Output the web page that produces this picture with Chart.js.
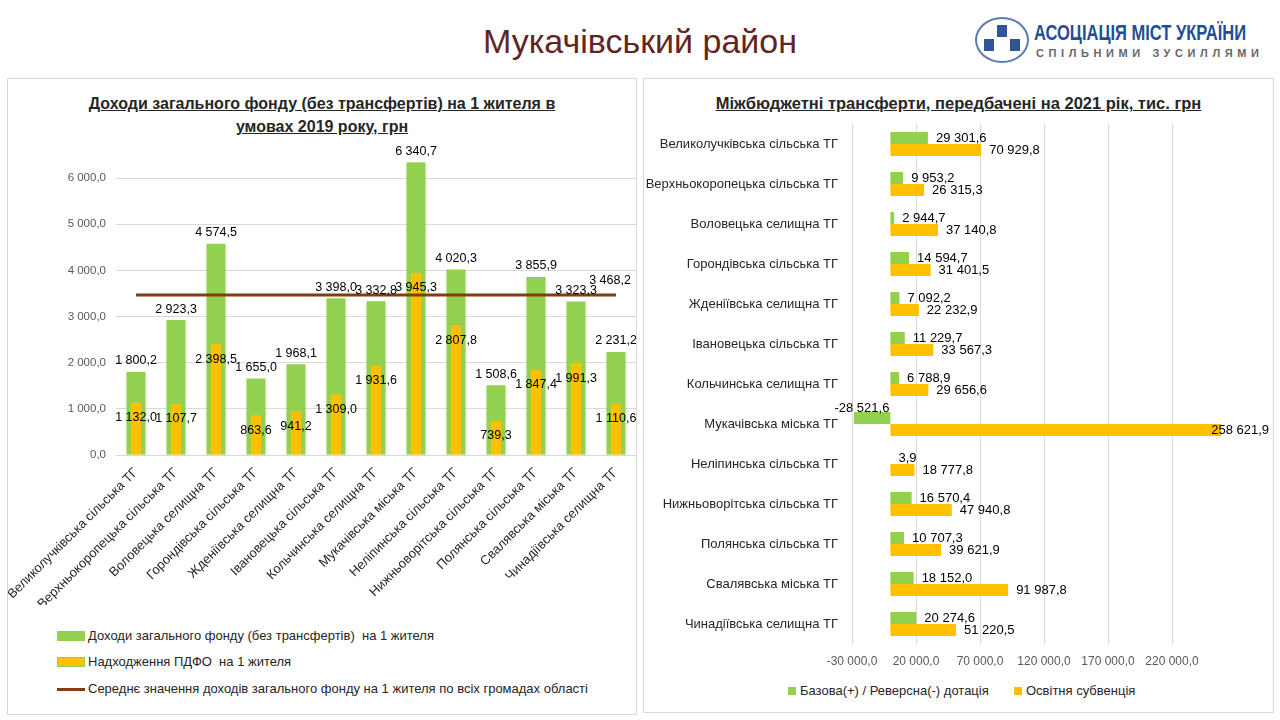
<!DOCTYPE html>
<html lang="uk">
<head>
<meta charset="utf-8">
<title>Мукачівський район</title>
<script src="https://cdn.jsdelivr.net/npm/chart.js@4.4.1/dist/chart.umd.min.js"></script>
<style>
  body {
    margin: 0; width: 1280px; height: 720px; position: relative; overflow: hidden;
    background: #fff; color: #262626;
    font-family: "Liberation Sans", Arial, sans-serif;
  }
  .page-title { position: absolute; left: 0; top: 22px; width: 1280px; text-align: center; font-size: 34px; color: #632523; }
  .panel { position: absolute; border: 1px solid #d9d9d9; box-sizing: border-box; }
  #leftPanel { left: 7px; top: 78px; width: 630px; height: 637px; }
  #rightPanel { left: 643px; top: 78px; width: 631px; height: 635px; }
  .chart-title { position: absolute; left: 0; width: 100%; text-align: center; font-weight: bold; line-height: 23px; text-decoration: underline; }
  canvas { position: absolute; }
  .legend-row { position: absolute; height: 18px; line-height: 18px; font-size: 13px; white-space: nowrap; display: flex; align-items: center; }
  .swatch { display: inline-block; width: 28px; height: 10px; margin-right: 3px; box-sizing: border-box; }
  .sq { display: inline-block; width: 8px; height: 8px; margin-right: 4px; }

  /* logo */
  .logo-ring { position: absolute; left: 975px; top: 17px; width: 54px; height: 46px; border: 2px solid #5b7bb0; border-radius: 50%; box-sizing: border-box; }
  .logo-tower { position: absolute; width: 10px; height: 12px; background: #2f5597; }
  .logo-main { position: absolute; left: 1034px; top: 20px; font-size: 16.5px; font-weight: bold; color: #1f4e9a; white-space: nowrap; transform: scale(1, 1.3); transform-origin: left top; }
  .logo-sub { position: absolute; left: 1036px; top: 47px; font-size: 11px; font-weight: bold; color: #666; letter-spacing: 4.6px; white-space: nowrap; }
</style>
</head>
<body>

<div class="page-title">Мукачівський район</div>

<div class="logo-ring">
  <div class="logo-tower" style="left:20px; top:6px"></div>
  <div class="logo-tower" style="left:7px; top:20px"></div>
  <div class="logo-tower" style="left:33px; top:20px"></div>
</div>
<div class="logo-main">АСОЦІАЦІЯ МІСТ УКРАЇНИ</div>
<div class="logo-sub">СПІЛЬНИМИ ЗУСИЛЛЯМИ</div>

<div class="panel" id="leftPanel">
  <div class="chart-title" style="top:13px; font-size:16px">Доходи загального фонду (без трансфертів) на 1 жителя в<br>умовах 2019 року, грн</div>
  <canvas id="chart-income" width="628" height="480" style="left:0; top:61px; width:628px; height:480px"></canvas>
  <div class="legend-row" style="left:49px; top:548px"><span class="swatch" style="background:#92D050"></span>Доходи загального фонду (без трансфертів)&nbsp; на 1 жителя</div>
  <div class="legend-row" style="left:49px; top:574px"><span class="swatch" style="background:#FFC000; border:1px solid #92D050"></span>Надходження ПДФО&nbsp; на 1 жителя</div>
  <div class="legend-row" style="left:49px; top:601px"><span class="swatch" style="height:3px; background:#843C0C"></span>Середнє значення доходів загального фонду на 1 жителя по всіх громадах області</div>
</div>

<div class="panel" id="rightPanel">
  <div class="chart-title" style="top:13px; font-size:16.5px">Міжбюджетні трансферти, передбачені на 2021 рік, тис. грн</div>
  <canvas id="chart-transfers" width="629" height="565" style="left:0; top:36px; width:629px; height:565px"></canvas>
  <div class="legend-row" style="left:144px; top:603px"><span class="sq" style="background:#92D050"></span>Базова(+) / Реверсна(-) дотація</div>
  <div class="legend-row" style="left:370px; top:603px"><span class="sq" style="background:#FFC000"></span>Освітня субвенція</div>
</div>

<script>
// --- data ---
const communities = [
  'Великолучківська сільська ТГ', 'Верхньокоропецька сільська ТГ', 'Воловецька селищна ТГ',
  'Горондівська сільська ТГ', 'Жденіївська селищна ТГ', 'Івановецька сільська ТГ',
  'Кольчинська селищна ТГ', 'Мукачівська міська ТГ', 'Неліпинська сільська ТГ',
  'Нижньоворітська сільська ТГ', 'Полянська сільська ТГ', 'Свалявська міська ТГ',
  'Чинадіївська селищна ТГ'
];

// left chart, грн per resident
const incomePerCapita = [1800.2, 2923.3, 4574.5, 1655.0, 1968.1, 3398.0, 3332.8, 6340.7, 4020.3, 1508.6, 3855.9, 3323.3, 2231.2];
const pitPerCapita = [1132.0, 1107.7, 2398.5, 863.6, 941.2, 1309.0, 1931.6, 3945.3, 2807.8, 739.3, 1847.4, 1991.3, 1110.6];
const regionAverage = [3468.2, 3468.2, 3468.2, 3468.2, 3468.2, 3468.2, 3468.2, 3468.2, 3468.2, 3468.2, 3468.2, 3468.2, 3468.2];
const incomeTicks = [0, 1000, 2000, 3000, 4000, 5000, 6000];

// right chart, тис. грн
const baseSubsidy = [29301.6, 9953.2, 2944.7, 14594.7, 7092.2, 11229.7, 6788.9, -28521.6, 3.9, 16570.4, 10707.3, 18152.0, 20274.6];
const eduSubvention = [70929.8, 26315.3, 37140.8, 31401.5, 22232.9, 33567.3, 29656.6, 258621.9, 18777.8, 47940.8, 39621.9, 91987.8, 51220.5];
const transferTicks = [-30000, 20000, 70000, 120000, 170000, 220000];

const FONT = '"Liberation Sans", Arial, sans-serif';
const GREEN = '#92D050';
const YELLOW = '#FFC000';
const BROWN = '#843C0C';
const GRID = '#d9d9d9';

// 1 234,5 style numbers
function fmt(v) {
    const parts = Math.abs(v).toFixed(1).split('.');
    const int = parts[0].replace(/\B(?=(\d{3})+(?!\d))/g, ' ');
    return (v < 0 ? '-' : '') + int + ',' + parts[1];
}

// keep the plot area where we put it, no extra room for rotated / edge labels
function noScalePadding(s) {
    s.paddingLeft = 0;
    s.paddingRight = 0;
    s.paddingTop = 0;
    s.paddingBottom = 0;
}

// draws value labels next to the bars / line, position picked per dataset
const valueLabels = {
    id: 'valueLabels',
    afterDatasetsDraw(chart, args, opts) {
        const ctx = chart.ctx;
        ctx.save();
        ctx.font = opts.size + 'px ' + FONT;
        ctx.fillStyle = '#000';
        ctx.textBaseline = 'middle';
        chart.data.datasets.forEach((ds, i) => {
            if (!ds.labelMode) return;
            const meta = chart.getDatasetMeta(i);
            meta.data.forEach((el, j) => {
                const v = ds.data[j];
                const text = fmt(v);
                const w = ctx.measureText(text).width;
                if (ds.labelMode === 'above') {
                    ctx.textAlign = 'center';
                    ctx.fillText(text, el.x, el.y - 11);
                } else if (ds.labelMode === 'inside') {
                    ctx.textAlign = 'center';
                    ctx.fillText(text, el.x, el.y + 15);
                } else if (ds.labelMode === 'last') {
                    if (j !== meta.data.length - 1) return;
                    ctx.textAlign = 'center';
                    ctx.fillText(text, el.x - 6, el.y - 14);
                } else if (ds.labelMode === 'end') {
                    if (v < 0) {
                        ctx.textAlign = 'right';
                        ctx.fillText(text, el.base - 1, el.y - 10);
                    } else {
                        ctx.textAlign = 'left';
                        let x = el.x + 8;
                        if (x + w > chart.width - 4) x = chart.width - 4 - w;
                        ctx.fillText(text, x, el.y);
                    }
                }
            });
        });
        ctx.restore();
    }
};

(function() {

    const ui = {
        income: document.getElementById('chart-income'),
        transfers: document.getElementById('chart-transfers'),
    };

    Chart.defaults.font.family = FONT;
    Chart.defaults.animation = false;

    // Chart 1: income per resident (overlapping bars + average line)
    new Chart(ui.income.getContext('2d'), {
        data: {
            labels: communities,
            datasets: [
                {
                    type: 'line',
                    label: 'Середнє значення доходів загального фонду на 1 жителя по всіх громадах області',
                    data: regionAverage,
                    borderColor: BROWN,
                    borderWidth: 3,
                    pointRadius: 0,
                    order: 0,
                    labelMode: 'last'
                },
                {
                    type: 'bar',
                    label: 'Надходження ПДФО на 1 жителя',
                    data: pitPerCapita,
                    backgroundColor: YELLOW,
                    grouped: false,
                    categoryPercentage: 1,
                    barPercentage: 0.26,
                    order: 1,
                    labelMode: 'inside'
                },
                {
                    type: 'bar',
                    label: 'Доходи загального фонду (без трансфертів) на 1 жителя',
                    data: incomePerCapita,
                    backgroundColor: GREEN,
                    grouped: false,
                    categoryPercentage: 1,
                    barPercentage: 0.48,
                    order: 2,
                    labelMode: 'above'
                }
            ]
        },
        options: {
            responsive: false,
            layout: { padding: { top: 15, right: 0, bottom: 15, left: 0 } },
            plugins: { legend: { display: false }, tooltip: { enabled: false }, valueLabels: { size: 12.5 } },
            scales: {
                x: {
                    grid: { display: false },
                    border: { display: true, color: GRID },
                    ticks: { color: '#262626', font: { size: 13 }, minRotation: 45, maxRotation: 45, padding: 2, autoSkip: false },
                    afterFit: s => { s.height = 150; noScalePadding(s); }
                },
                y: {
                    min: 0,
                    max: 6500,
                    grid: { color: GRID, drawTicks: false },
                    border: { display: false },
                    ticks: { color: '#595959', font: { size: 11.5 }, padding: 10, callback: v => fmt(v) },
                    afterBuildTicks: s => { s.ticks = incomeTicks.map(v => ({ value: v })); },
                    afterFit: s => { s.width = 108; noScalePadding(s); }
                }
            }
        },
        plugins: [valueLabels]
    });

    // Chart 2: transfers for 2021 (horizontal bars)
    new Chart(ui.transfers.getContext('2d'), {
        type: 'bar',
        data: {
            labels: communities,
            datasets: [
                {
                    label: 'Базова(+) / Реверсна(-) дотація',
                    data: baseSubsidy,
                    backgroundColor: GREEN,
                    categoryPercentage: 0.6,
                    barPercentage: 1,
                    labelMode: 'end'
                },
                {
                    label: 'Освітня субвенція',
                    data: eduSubvention,
                    backgroundColor: YELLOW,
                    categoryPercentage: 0.6,
                    barPercentage: 1,
                    labelMode: 'end'
                }
            ]
        },
        options: {
            indexAxis: 'y',
            responsive: false,
            layout: { padding: { top: 9, right: 37, bottom: 0, left: 0 } },
            plugins: { legend: { display: false }, tooltip: { enabled: false }, valueLabels: { size: 13 } },
            scales: {
                x: {
                    min: -30000,
                    max: 270000,
                    grid: { color: GRID, drawTicks: false },
                    border: { display: false },
                    ticks: { color: '#595959', font: { size: 12 }, padding: 10, callback: v => fmt(v) },
                    afterBuildTicks: s => { s.ticks = transferTicks.map(v => ({ value: v })); },
                    afterFit: s => { s.height = 36; noScalePadding(s); }
                },
                y: {
                    grid: { display: false },
                    border: { display: false },
                    ticks: { color: '#262626', font: { size: 13 }, padding: 6, autoSkip: false },
                    afterFit: s => { s.width = 208; noScalePadding(s); }
                }
            }
        },
        plugins: [valueLabels]
    });
})();
</script>
</body>
</html>
